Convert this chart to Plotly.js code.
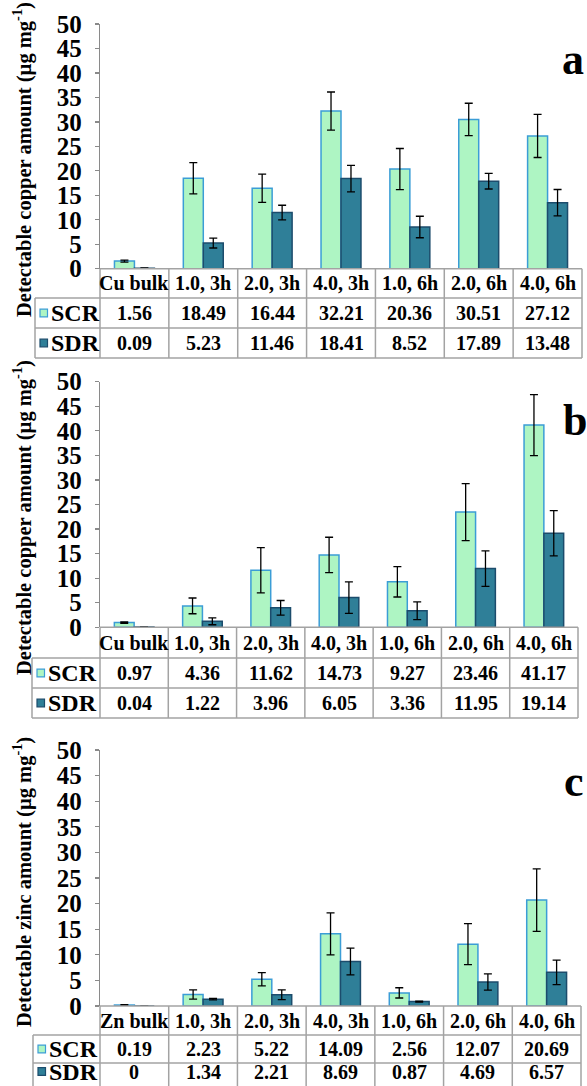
<!DOCTYPE html>
<html><head><meta charset="utf-8">
<script src="https://cdn.plot.ly/plotly-3.0.1.min.js"></script>
<style>html,body{margin:0;padding:0;background:#fff}#chart{width:587px;height:1086px}</style>
</head><body><div id="chart"></div>
<script>
// ---------------- data ----------------
const categoriesCu = ['Cu bulk', '1.0, 3h', '2.0, 3h', '4.0, 3h', '1.0, 6h', '2.0, 6h', '4.0, 6h'];
const categoriesZn = ['Zn bulk', '1.0, 3h', '2.0, 3h', '4.0, 3h', '1.0, 6h', '2.0, 6h', '4.0, 6h'];
const seriesNames = ['SCR', 'SDR'];

// panel a (copper)
const scrA = [1.56, 18.49, 16.44, 32.21, 20.36, 30.51, 27.12];
const sdrA = [0.09, 5.23, 11.46, 18.41, 8.52, 17.89, 13.48];
const scrErrA = [0.2, 3.2, 2.9, 3.9, 4.2, 3.3, 4.4];
const sdrErrA = [0.05, 1.0, 1.5, 2.7, 2.2, 1.6, 2.7];

// panel b (copper)
const scrB = [0.97, 4.36, 11.62, 14.73, 9.27, 23.46, 41.17];
const sdrB = [0.04, 1.22, 3.96, 6.05, 3.36, 11.95, 19.14];
const scrErrB = [0.15, 1.6, 4.6, 3.6, 3.1, 5.8, 6.2];
const sdrErrB = [0.05, 0.7, 1.5, 3.2, 1.8, 3.6, 4.6];

// panel c (zinc)
const scrC = [0.19, 2.23, 5.22, 14.09, 2.56, 12.07, 20.69];
const sdrC = [0, 1.34, 2.21, 8.69, 0.87, 4.69, 6.57];
const scrErrC = [0.05, 0.9, 1.3, 4.1, 1.0, 4.0, 6.1];
const sdrErrC = [0, 0.15, 0.95, 2.6, 0.1, 1.6, 2.4];

const yTickVals = [0, 5, 10, 15, 20, 25, 30, 35, 40, 45, 50];
const yTitles = ['Detectable copper amount (µg mg<sup>-1</sup>)',
                 'Detectable copper amount (µg mg<sup>-1</sup>)',
                 'Detectable zinc amount (µg mg<sup>-1</sup>)'];
const panelLabels = ['a', 'b', 'c'];

// ---------------- layout geometry (pixels) ----------------
const W = 587, H = 1086;
const FONT = 'Liberation Serif';
const scrFill = '#aef5c3', scrLine = '#3b9dd6';
const sdrFill = '#2f7f98', sdrLine = '#1c4c6c';
const gridCol = '#a3a3a3';

const panels = [
  {cats: categoriesCu, scr: scrA, sdr: sdrA, scrErr: scrErrA, sdrErr: sdrErrA,
   x0: 100, x1: 582, yZero: 268.7, yTop: 24, rows: [268.7, 298, 328, 358], mids: [283, 313, 343], left: 35,
   titleY: 160, labelX: 573, labelY: 60},
  {cats: categoriesCu, scr: scrB, sdr: sdrB, scrErr: scrErrB, sdrErr: sdrErrB,
   x0: 100, x1: 578, yZero: 627.3, yTop: 381.7, rows: [627.3, 658, 688, 718], mids: [642.5, 673, 703], left: 32,
   titleY: 518, labelX: 575, labelY: 421},
  {cats: categoriesZn, scr: scrC, sdr: sdrC, scrErr: scrErrC, sdrErr: sdrErrC,
   x0: 100, x1: 581, yZero: 1006, yTop: 750, rows: [1006, 1035, 1063, 1092], mids: [1020.5, 1049, 1071.5], left: 33,
   titleY: 882, labelX: 574, labelY: 781}
];

const fx = p => p / W;
const fy = p => 1 - p / H;
const fmt = v => String(v);

const traces = [];
const layout = {
  width: W, height: H,
  margin: {l: 0, r: 0, t: 0, b: 0, pad: 0},
  paper_bgcolor: '#fff', plot_bgcolor: '#fff',
  showlegend: false,
  barmode: 'group', bargap: 0.42, bargroupgap: 0,
  font: {family: FONT, color: '#000'},
  annotations: [], shapes: []
};

panels.forEach((p, i) => {
  const n = i === 0 ? '' : String(i + 1);
  const xa = 'x' + n, ya = 'y' + n;
  const xd = xa + ' domain';
  const errStyle = {type: 'data', visible: true, color: '#000', thickness: 1.3, width: 4};
  traces.push({
    type: 'bar', name: seriesNames[0], x: p.cats, y: p.scr, xaxis: xa, yaxis: ya,
    marker: {color: scrFill, line: {color: scrLine, width: 1.5}},
    error_y: Object.assign({array: p.scrErr}, errStyle), hoverinfo: 'skip'
  });
  traces.push({
    type: 'bar', name: seriesNames[1], x: p.cats, y: p.sdr, xaxis: xa, yaxis: ya,
    marker: {color: sdrFill, line: {color: sdrLine, width: 1.5}},
    error_y: Object.assign({array: p.sdrErr}, errStyle), hoverinfo: 'skip'
  });

  layout['xaxis' + n] = {
    domain: [fx(p.x0), fx(p.x1)], anchor: ya, type: 'category',
    categoryorder: 'array', categoryarray: p.cats, range: [-0.5, p.cats.length - 0.5],
    showticklabels: false, ticks: '', showline: false, showgrid: false, zeroline: false, fixedrange: true
  };
  layout['yaxis' + n] = {
    domain: [fy(p.yZero), fy(p.yTop)], anchor: xa, range: [0, 50],
    tickmode: 'array', tickvals: yTickVals, ticktext: yTickVals.map(String),
    ticks: 'outside', ticklen: 4, tickwidth: 1.3, tickcolor: '#8a8a8a',
    showline: true, linecolor: '#8a8a8a', linewidth: 1.3,
    showgrid: false, zeroline: false, fixedrange: true, ticklabelstandoff: 8,
    tickfont: {family: FONT, size: 25, weight: 700, color: '#000'}
  };

  // ---- table grid ----
  const nc = p.cats.length;
  const dom = v => (v - p.x0) / (p.x1 - p.x0);
  const line = {color: gridCol, width: 1.5};
  layout.shapes.push({type: 'line', xref: xd, yref: 'paper', x0: 0, x1: 1, y0: fy(p.rows[0]), y1: fy(p.rows[0]), line});
  for (let r = 1; r < 4; r++) {
    layout.shapes.push({type: 'line', xref: xd, yref: 'paper', x0: dom(p.left), x1: 1, y0: fy(p.rows[r]), y1: fy(p.rows[r]), line});
  }
  for (let k = 0; k <= nc; k++) {
    layout.shapes.push({type: 'line', xref: xd, yref: 'paper', x0: k / nc, x1: k / nc, y0: fy(p.rows[0]), y1: fy(p.rows[3]), line});
  }
  layout.shapes.push({type: 'line', xref: xd, yref: 'paper', x0: dom(p.left), x1: dom(p.left), y0: fy(p.rows[1]), y1: fy(p.rows[3]), line});

  // ---- table text ----
  const cellFont = {family: FONT, size: 20, weight: 700, color: '#000'};
  p.cats.forEach((c, j) => {
    layout.annotations.push({xref: xa, yref: 'paper', x: c, y: fy(p.mids[0]), text: c, showarrow: false, font: cellFont, xanchor: 'center', yanchor: 'middle'});
    layout.annotations.push({xref: xa, yref: 'paper', x: c, y: fy(p.mids[1]), text: fmt(p.scr[j]), showarrow: false, font: cellFont, xanchor: 'center', yanchor: 'middle'});
    layout.annotations.push({xref: xa, yref: 'paper', x: c, y: fy(p.mids[2]), text: fmt(p.sdr[j]), showarrow: false, font: cellFont, xanchor: 'center', yanchor: 'middle'});
  });
  // legend column
  const legendFont = {family: FONT, size: 24, weight: 700, color: '#000'};
  [[seriesNames[0], scrFill, scrLine, 1], [seriesNames[1], sdrFill, sdrLine, 2]].forEach(([nm, fill, lc, r]) => {
    const cy = p.mids[r];
    layout.shapes.push({type: 'rect', xref: 'paper', yref: 'paper',
      x0: fx(p.left + 5), x1: fx(p.left + 12.5), y0: fy(cy + 3.8), y1: fy(cy - 3.8),
      fillcolor: fill, line: {color: lc, width: 1.2}});
    layout.annotations.push({xref: 'paper', yref: 'paper', x: fx(p.left + 13.5), y: fy(cy), text: nm,
      showarrow: false, font: legendFont, xanchor: 'left', yanchor: 'middle'});
  });

  // y-axis title
  layout.annotations.push({xref: 'paper', yref: 'paper', x: fx(22), y: fy(p.titleY), text: yTitles[i],
    textangle: -90, showarrow: false, xanchor: 'center', yanchor: 'middle',
    font: {family: FONT, size: 20.5, weight: 700, color: '#000'}});
  // panel label
  layout.annotations.push({xref: 'paper', yref: 'paper', x: fx(p.labelX), y: fy(p.labelY), text: panelLabels[i],
    showarrow: false, xanchor: 'center', yanchor: 'middle',
    font: {family: FONT, size: 44, weight: 700, color: '#000'}});
});

Plotly.newPlot('chart', traces, layout, {displayModeBar: false, staticPlot: true});
</script>
</body></html>
